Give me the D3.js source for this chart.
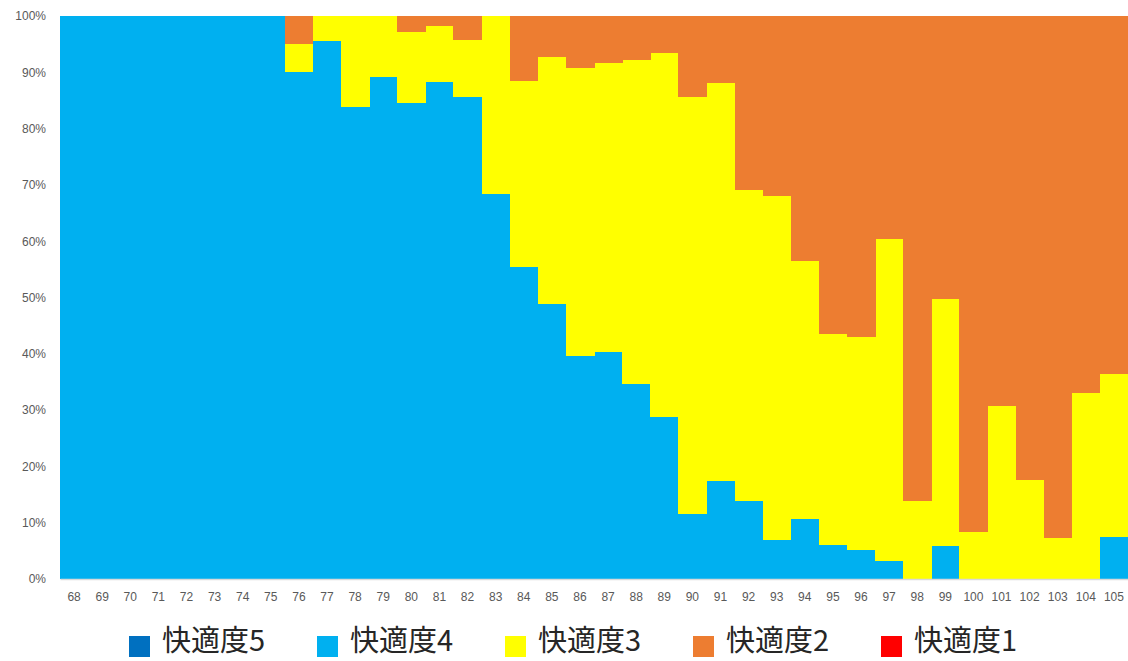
<!DOCTYPE html>
<html>
<head>
<meta charset="utf-8">
<script src="https://cdn.jsdelivr.net/npm/d3@7"></script>
<style>
  html, body { margin: 0; padding: 0; background: #fff; }
  svg { display: block; }
</style>
</head>
<body>
<svg id="chart" width="1128" height="661"></svg>
<script>
// Temperature categories (x axis)
const categories = [68,69,70,71,72,73,74,75,76,77,78,79,80,81,82,83,84,85,86,87,88,89,90,91,92,93,94,95,96,97,98,99,100,101,102,103,104,105];

// Share of responses per comfort level, in percent
const level5 = [0,0,0,0,0,0,0,0,0,0,0,0,0,0,0,0,0,0,0,0,0,0,0,0,0,0,0,0,0,0,0,0,0,0,0,0,0,0];
const level4 = [100,100,100,100,100,100,100,100,90.0,95.6,83.8,89.2,84.5,88.3,85.6,68.4,55.4,48.8,39.6,40.3,34.6,28.8,11.5,17.4,13.9,6.9,10.7,6.0,5.1,3.2,0,5.9,0,0,0,0,0,7.4];
const level3 = [0,0,0,0,0,0,0,0,5.0,4.4,16.2,10.8,12.7,9.9,10.1,31.6,33.0,44.0,51.1,51.3,57.6,64.7,74.2,70.7,55.2,61.2,45.8,37.5,37.9,57.2,13.9,43.8,8.3,30.7,17.6,7.2,33.1,29.1];
const level2 = [0,0,0,0,0,0,0,0,5.0,0,0,0,2.8,1.8,4.3,0,11.6,7.2,9.3,8.4,7.8,6.5,14.3,11.9,30.9,31.9,43.5,56.5,57.0,39.6,86.1,50.3,91.7,69.3,82.4,92.8,66.9,63.5];
const level1 = [0,0,0,0,0,0,0,0,0,0,0,0,0,0,0,0,0,0,0,0,0,0,0,0,0,0,0,0,0,0,0,0,0,0,0,0,0,0];

const seriesNames = ["快適度5", "快適度4", "快適度3", "快適度2", "快適度1"];
const seriesColors = ["#0070C0", "#00B0F0", "#FFFF00", "#ED7D31", "#FF0000"];
const yTicks = [0,10,20,30,40,50,60,70,80,90,100];

const seriesValues = [level5, level4, level3, level2, level1];
const rows = categories.map((c, i) => {
  const r = { cat: c };
  seriesNames.forEach((n, s) => { r[n] = seriesValues[s][i]; });
  return r;
});

const svg = d3.select("#chart");
const plot = { left: 60, right: 1128, top: 16, bottom: 579 };

const x = d3.scaleBand()
  .domain(categories)
  .range([plot.left, plot.right])
  .paddingInner(0).paddingOuter(0);

const y = d3.scaleLinear()
  .domain([0, 100])
  .range([plot.bottom, plot.top]);

const stacked = d3.stack().keys(seriesNames)(rows);

svg.append("g")
  .selectAll("g")
  .data(stacked)
  .join("g")
  .attr("fill", (d, i) => seriesColors[i])
  .selectAll("rect")
  .data(d => d)
  .join("rect")
  .attr("shape-rendering", "crispEdges")
  .attr("x", d => x(d.data.cat))
  .attr("width", x.bandwidth() + 0.5)
  .attr("y", d => y(d[1]))
  .attr("height", d => Math.max(0, y(d[0]) - y(d[1])));

// Y axis labels (no axis line)
const yAxis = svg.append("g")
  .attr("transform", `translate(${plot.left},0)`)
  .call(d3.axisLeft(y).tickValues(yTicks).tickSize(0).tickPadding(14).tickFormat(d => d + "%"));
yAxis.select(".domain").remove();
yAxis.selectAll("text")
  .attr("fill", "#595959")
  .style("font-family", "'Liberation Sans', Arial, sans-serif")
  .style("font-size", "12px");

// X axis: light baseline with category labels
const xAxis = svg.append("g")
  .attr("transform", `translate(0,${plot.bottom})`)
  .call(d3.axisBottom(x).tickSize(0).tickPadding(13));
xAxis.select(".domain")
  .attr("stroke", "#D9D9D9")
  .attr("stroke-width", 1.5);
xAxis.selectAll("text")
  .attr("fill", "#595959")
  .style("font-family", "'Liberation Sans', Arial, sans-serif")
  .style("font-size", "12px");

// Legend
const legend = svg.append("g");
const legendX0 = 129, legendStep = 188, legendY = 636;
const item = legend.selectAll("g")
  .data(seriesNames)
  .join("g")
  .attr("transform", (d, i) => `translate(${legendX0 + i * legendStep},${legendY})`);
item.append("rect")
  .attr("width", 21)
  .attr("height", 21)
  .attr("fill", (d, i) => seriesColors[i]);
item.append("text")
  .attr("x", 33)
  .attr("y", 15)
  .attr("fill", "#262626")
  .style("font-family", "'Noto Sans CJK JP', sans-serif")
  .style("font-size", "29px")
  .text(d => d);
</script>
</body>
</html>
